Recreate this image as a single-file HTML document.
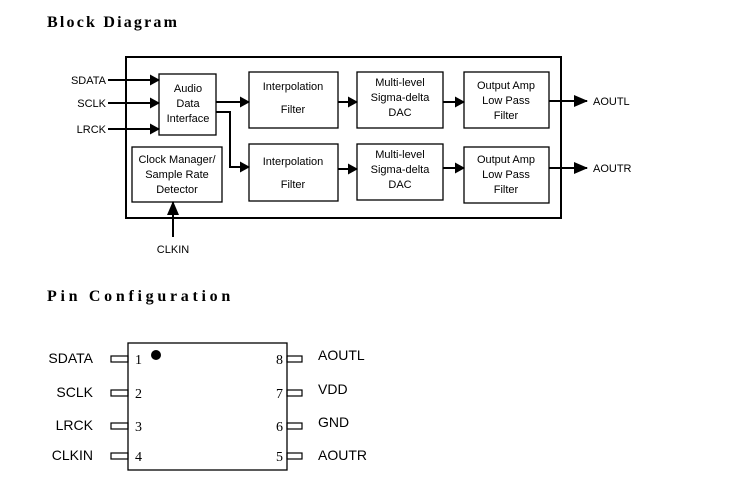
<!DOCTYPE html>
<html><head><meta charset="utf-8"><style>
html,body{margin:0;padding:0;background:#fff;width:730px;height:500px;overflow:hidden}
svg{display:block}
text{font-family:"Liberation Sans",sans-serif;font-size:11px;fill:#000}
.t{font-family:"Liberation Serif",serif;font-weight:bold;font-size:16px;letter-spacing:2.2px}
.n{font-family:"Liberation Serif",serif;font-size:14px}
.p{font-size:14px}
</style></head><body>
<svg width="730" height="500" viewBox="0 0 730 500">
<defs><marker id="a" markerWidth="10" markerHeight="11" refX="9" refY="5.5" orient="auto" markerUnits="userSpaceOnUse"><path d="M0,0 L10,5.5 L0,11 z" fill="#000"/></marker>
<marker id="b" markerWidth="14" markerHeight="12" refX="13" refY="6" orient="auto" markerUnits="userSpaceOnUse"><path d="M0,0 L14,6 L0,12 z" fill="#000"/></marker></defs>
<text class="t" x="47" y="27">Block Diagram</text>
<rect x="126" y="57" width="435" height="161" fill="none" stroke="#000" stroke-width="2"/>
<g fill="none" stroke="#000" stroke-width="1.3">
<rect x="159" y="74" width="57" height="61"/>
<rect x="249" y="72" width="89" height="56"/>
<rect x="249" y="144" width="89" height="57"/>
<rect x="132" y="147" width="90" height="55"/>
<rect x="357" y="72" width="86" height="56"/>
<rect x="357" y="144" width="86" height="56"/>
<rect x="464" y="72" width="85" height="56"/>
<rect x="464" y="147" width="85" height="56"/>
</g>
<g stroke="#000" stroke-width="2" fill="none">
<line x1="108" y1="80" x2="159" y2="80" marker-end="url(#a)"/>
<line x1="108" y1="103" x2="159" y2="103" marker-end="url(#a)"/>
<line x1="108" y1="129" x2="159" y2="129" marker-end="url(#a)"/>
<line x1="216" y1="102" x2="249" y2="102" marker-end="url(#a)"/>
<polyline points="216,112 230,112 230,167 249,167" marker-end="url(#a)"/>
<line x1="338" y1="102" x2="357" y2="102" marker-end="url(#a)"/>
<line x1="338" y1="169" x2="357" y2="169" marker-end="url(#a)"/>
<line x1="443" y1="102" x2="464" y2="102" marker-end="url(#a)"/>
<line x1="443" y1="168" x2="464" y2="168" marker-end="url(#a)"/>
<line x1="549" y1="101" x2="587" y2="101" marker-end="url(#b)"/>
<line x1="549" y1="168" x2="587" y2="168" marker-end="url(#b)"/>
<line x1="173" y1="237" x2="173" y2="202" marker-end="url(#b)"/>
</g>
<g text-anchor="end"><text x="106" y="84">SDATA</text><text x="106" y="107">SCLK</text><text x="106" y="133">LRCK</text></g>
<g text-anchor="middle">
<text x="188" y="92">Audio</text><text x="188" y="107">Data</text><text x="188" y="122">Interface</text>
<text x="293" y="90">Interpolation</text><text x="293" y="113">Filter</text>
<text x="293" y="165">Interpolation</text><text x="293" y="188">Filter</text>
<text x="177" y="163">Clock Manager/</text><text x="177" y="178">Sample Rate</text><text x="177" y="193">Detector</text>
<text x="400" y="86">Multi-level</text><text x="400" y="101">Sigma-delta</text><text x="400" y="116">DAC</text>
<text x="400" y="158">Multi-level</text><text x="400" y="173">Sigma-delta</text><text x="400" y="188">DAC</text>
<text x="506" y="89">Output Amp</text><text x="506" y="104">Low Pass</text><text x="506" y="119">Filter</text>
<text x="506" y="163">Output Amp</text><text x="506" y="178">Low Pass</text><text x="506" y="193">Filter</text>
<text x="173" y="253">CLKIN</text>
</g>
<text x="593" y="105">AOUTL</text><text x="593" y="172">AOUTR</text>
<text class="t" x="47" y="301" style="letter-spacing:3.7px">Pin Configuration</text>
<rect x="128" y="343" width="159" height="127" fill="none" stroke="#000" stroke-width="1.3"/>
<circle cx="156" cy="355" r="5" fill="#000"/>
<g fill="none" stroke="#000" stroke-width="1.2">
<rect x="111" y="356" width="17" height="6"/><rect x="111" y="390" width="17" height="6"/>
<rect x="111" y="423" width="17" height="6"/><rect x="111" y="453" width="17" height="6"/>
<rect x="287" y="356" width="15" height="6"/><rect x="287" y="390" width="15" height="6"/>
<rect x="287" y="423" width="15" height="6"/><rect x="287" y="453" width="15" height="6"/>
</g>
<g text-anchor="end"><text class="p" x="93" y="363">SDATA</text><text class="p" x="93" y="397">SCLK</text><text class="p" x="93" y="430">LRCK</text><text class="p" x="93" y="460">CLKIN</text></g>
<text class="p" x="318" y="360">AOUTL</text><text class="p" x="318" y="394">VDD</text><text class="p" x="318" y="427">GND</text><text class="p" x="318" y="460">AOUTR</text>
<text class="n" x="135" y="364">1</text><text class="n" x="135" y="398">2</text><text class="n" x="135" y="431">3</text><text class="n" x="135" y="461">4</text>
<g text-anchor="end"><text class="n" x="283" y="364">8</text><text class="n" x="283" y="398">7</text><text class="n" x="283" y="431">6</text><text class="n" x="283" y="461">5</text></g>
</svg>
</body></html>
